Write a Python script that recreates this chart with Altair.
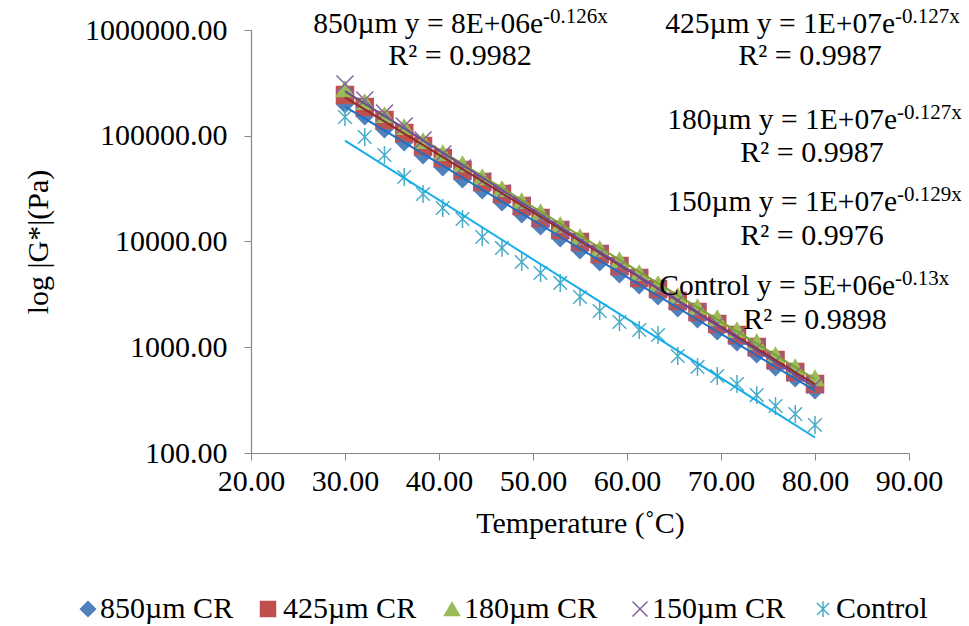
import altair as alt
import pandas as pd

# Test temperatures (°C) shared by every sample
temperature = [30.0, 32.1, 34.2, 36.3, 38.3, 40.4, 42.5, 44.6, 46.7, 48.8, 50.8, 52.9,
               55.0, 57.1, 59.2, 61.3, 63.3, 65.4, 67.5, 69.6, 71.7, 73.8, 75.8, 77.9, 80.0]

# Complex modulus |G*| (Pa) per sample
g_850 = [199600, 153800, 115800, 87300, 65780, 50650, 39010, 30690, 23640, 18200, 14020, 10800,
         8310, 6404, 4930, 3879, 3053, 2351, 1850, 1425, 1122, 864, 650.6, 512.1, 394.3]
g_425 = [242800, 187000, 140900, 106200, 80000, 61600, 47450, 36520, 28130, 21660, 16680, 12850,
         9890, 7620, 5866, 4516, 3554, 2737, 2154, 1659, 1306, 1006, 757.5, 583.4, 449.2]
g_180 = [276600, 208500, 157100, 121000, 89200, 68700, 54000, 40700, 31360, 24150, 19000, 14330,
         11030, 8500, 6680, 5035, 3963, 3052, 2402, 1890, 1456, 1122, 844.6, 650.5, 511.6]
g_150 = [308400, 217800, 164100, 123700, 91100, 67200, 49560, 37320, 28750, 21900, 16500, 12950,
         9800, 7700, 5800, 4560, 3520, 2760, 2130, 1670, 1278, 984, 741, 571, 439.5]
g_control = [150300, 97300, 65800, 40740, 28120, 20750, 16330, 11040, 8690, 6397, 5035, 4055,
             2985, 2203, 1734, 1455, 1306, 826, 650, 535, 449, 353, 278, 234, 184]

series_names = ["850µm CR", "425µm CR", "180µm CR", "150µm CR", "Control"]
series_values = [g_850, g_425, g_180, g_150, g_control]

marker_colors = ["#4F81BD", "#C0504D", "#9BBB59", "#8064A2", "#4BACC6"]
trend_colors = ["#1F6FC4", "#8E2B2B", "#7E9F3C", "#6E4C9A", "#16AEE8"]
cross_path = "M-1,-1L1,1M-1,1L1,-1"
star_path = "M-0.8,-0.8L0.8,0.8M-0.8,0.8L0.8,-0.8M0,-1.05L0,1.05"
marker_shapes = ["diamond", "square", "triangle-up", cross_path, star_path]

# Trendline annotations: equation head, exponent, R²
eq_heads = ["850µm y = 8E+06e", "425µm y = 1E+07e", "180µm y = 1E+07e",
            "150µm y = 1E+07e", "Control y = 5E+06e"]
eq_exponents = ["-0.126x", "-0.127x", "-0.127x", "-0.129x", "-0.13x"]
eq_r2 = ["R² = 0.9982", "R² = 0.9987", "R² = 0.9987", "R² = 0.9976", "R² = 0.9898"]

x_ticks = [20, 30, 40, 50, 60, 70, 80, 90]
y_ticks = [100, 1000, 10000, 100000, 1000000]

FONT = "Liberation Serif, serif"
FS = 30

df = pd.concat(
    [pd.DataFrame({"series": name, "T": temperature, "G": vals})
     for name, vals in zip(series_names, series_values)],
    ignore_index=True,
)

x_enc = alt.X(
    "T:Q",
    scale=alt.Scale(domain=[20, 90], nice=False, zero=False),
    axis=alt.Axis(values=x_ticks, format=".2f", title="Temperature (˚C)",
                  labelPadding=6, titlePadding=12, labelOverlap=False, labelFlush=False),
)
y_enc = alt.Y(
    "G:Q",
    scale=alt.Scale(type="log", domain=[100, 1000000], nice=False),
    axis=alt.Axis(values=y_ticks, format=".2f", title="log |G*|(Pa)",
                  labelPadding=17, titlePadding=31, labelOverlap=False, labelFlush=False),
)

points = alt.Chart(df).mark_point(filled=True, size=289, strokeWidth=1.5, opacity=1).encode(
    x=x_enc,
    y=y_enc,
    color=alt.Color("series:N", scale=alt.Scale(domain=series_names, range=marker_colors), legend=None),
    stroke=alt.Stroke("series:N", scale=alt.Scale(domain=series_names, range=marker_colors), legend=None),
    shape=alt.Shape("series:N", scale=alt.Scale(domain=series_names, range=marker_shapes), legend=None),
)

# Exponential trendlines: linear least squares on ln|G*|
trend = (
    alt.Chart(df)
    .transform_calculate(lnG="log(datum.G)")
    .transform_regression("T", "lnG", groupby=["series"])
    .transform_calculate(G="exp(datum.lnG)")
    .mark_line(strokeWidth=2)
    .encode(
        x="T:Q",
        y="G:Q",
        color=alt.Color("series:N", scale=alt.Scale(domain=series_names, range=trend_colors), legend=None),
    )
)

one_row = pd.DataFrame({"k": [0]})
LEFT, TOP = 251, 30


def text_mark(txt, x, y, size, align):
    return alt.Chart(one_row).mark_text(
        text=txt, font=FONT, fontSize=size, align=align, baseline="middle", color="black"
    ).encode(x=alt.value(x - LEFT), y=alt.value(y - TOP))


# (junction x of head/exponent, line-1 y, line-2 y, R² centre x)
label_spots = [(543, 24, 56, 460), (895, 24, 56, 810), (897, 120, 153, 812),
               (897, 202, 236, 812), (895, 286, 320, 815)]

labels = []
for head, expo, r2, (xj, y1, y2, xr) in zip(eq_heads, eq_exponents, eq_r2, label_spots):
    labels.append(text_mark(head, xj, y1, 29.5, "right"))
    labels.append(text_mark(expo, xj, y1 - 7, 21, "left"))
    labels.append(text_mark(r2, xr, y2, 30, "center"))

# Legend row below the x-axis title: (symbol centre x, label start x)
legend_spots = [(88, 100), (268, 283), (452, 464), (640, 652), (823, 836)]
LEGEND_Y = 609

legend_marks = []
for name, colr, shp, (sx, lx) in zip(series_names, marker_colors, marker_shapes, legend_spots):
    legend_marks.append(
        alt.Chart(one_row).mark_point(
            filled=True, size=225, strokeWidth=1.5, opacity=1, shape=shp, fill=colr, stroke=colr
        ).encode(x=alt.value(sx - LEFT), y=alt.value(LEGEND_Y - TOP))
    )
    legend_marks.append(text_mark(name, lx, LEGEND_Y, FS, "left"))

chart = (
    alt.layer(points, trend, *labels, *legend_marks)
    .resolve_scale(color="independent", stroke="independent", shape="independent")
    .properties(
        width=658, height=423, autosize="none",
        padding={"left": LEFT, "top": TOP, "right": 969 - 909, "bottom": 626 - 453},
        background="white",
    )
    .configure_view(stroke=None)
    .configure_axis(
        grid=False, domainColor="#868686", domainWidth=1.2, tickColor="#868686", tickSize=7,
        labelFont=FONT, labelFontSize=FS, labelColor="black",
        titleFont=FONT, titleFontSize=FS, titleColor="black", titleFontWeight="normal",
    )
)

chart.save("out.html", embed_options={"renderer": "svg", "actions": False})
